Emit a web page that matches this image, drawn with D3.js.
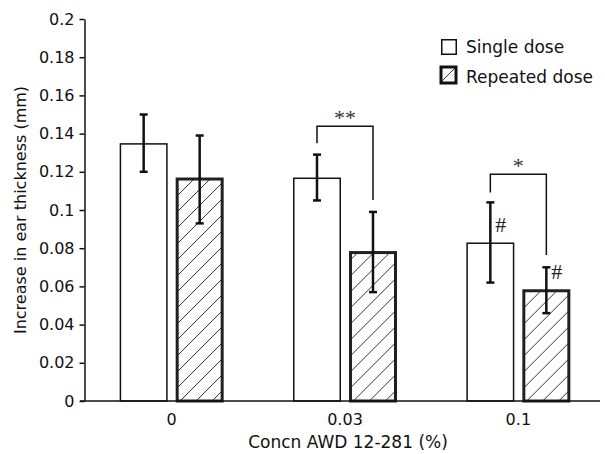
<!DOCTYPE html>
<html><head><meta charset="utf-8">
<script src="https://cdn.jsdelivr.net/npm/d3@7"></script>
<style>body{margin:0;background:#fff}svg{display:block}</style>
</head><body>
<svg id="c" width="605" height="454"></svg>
<script>
// ---- data ----
const categories = ["0", "0.03", "0.1"];
const seriesNames = ["Single dose", "Repeated dose"];
const singleMean = [0.135, 0.117, 0.083];
const singleErrLo = [0.120, 0.105, 0.062];
const singleErrHi = [0.150, 0.129, 0.104];
const repeatedMean = [0.117, 0.0785, 0.0585];
const repeatedErrLo = [0.093, 0.057, 0.046];
const repeatedErrHi = [0.139, 0.099, 0.070];
const yTicks = [0, 0.02, 0.04, 0.06, 0.08, 0.1, 0.12, 0.14, 0.16, 0.18, 0.2];
const yTickLabels = ["0", "0.02", "0.04", "0.06", "0.08", "0.1", "0.12", "0.14", "0.16", "0.18", "0.2"];
// significance brackets: category, bracket top value, left/right leg end values, label
const bracketCats = ["0.03", "0.1"];
const bracketTop = [0.1438, 0.1187];
const bracketLegL = [0.1349, 0.1091];
const bracketLegR = [0.1052, 0.0764];
const bracketLabels = ["**", "*"];
// '#' markers: category, series index
const hashCats = ["0.1", "0.1"];
const hashSeries = [0, 1];

const svg = d3.select("#c");
const font = "'DejaVu Sans', sans-serif";

const y = d3.scaleLinear().domain([0, 0.2]).range([401, 19]);
const x0 = d3.scaleBand().domain(categories).range([85, 605]).paddingInner(0).paddingOuter(0);
const step = x0.bandwidth();
const x1 = d3.scaleBand().domain([0, 1]).range([step / 2 - 52, step / 2 + 52]).paddingInner(0.143).paddingOuter(0);
const bw = x1.bandwidth();

// hatch pattern
const defs = svg.append("defs");
const pat = defs.append("pattern").attr("id", "hatch").attr("patternUnits", "userSpaceOnUse")
  .attr("width", 16).attr("height", 16);
pat.append("path").attr("d", "M-4,4 L4,-4 M0,16 L16,0 M12,20 L20,12")
  .attr("stroke", "#333").attr("stroke-width", 1).attr("fill", "none");

// rows
const rows = categories.map((c, i) => ({
  cat: c,
  vals: [
    { s: 0, mean: singleMean[i], lo: singleErrLo[i], hi: singleErrHi[i] },
    { s: 1, mean: repeatedMean[i], lo: repeatedErrLo[i], hi: repeatedErrHi[i] }
  ]
}));

const g = svg.append("g").selectAll("g").data(rows).join("g")
  .attr("transform", d => `translate(${x0(d.cat)},0)`);

g.selectAll("rect").data(d => d.vals).join("rect")
  .attr("x", d => x1(d.s) + (d.s === 1 ? 1.5 : 0.75))
  .attr("y", d => y(d.mean) + (d.s === 1 ? 1.5 : 0.75))
  .attr("width", d => bw - (d.s === 1 ? 3 : 1.5))
  .attr("height", d => y(0) - y(d.mean) - (d.s === 1 ? 1.5 : 0.75))
  .attr("fill", d => d.s === 1 ? "url(#hatch)" : "#fff")
  .attr("stroke", d => d.s === 1 ? "#231f20" : "#111")
  .attr("stroke-width", d => d.s === 1 ? 3 : 1.5);

// error bars
const eb = g.selectAll("g.eb").data(d => d.vals).join("g").attr("class", "eb")
  .attr("transform", d => `translate(${x1(d.s) + bw / 2},0)`);
eb.append("line").attr("y1", d => y(d.lo)).attr("y2", d => y(d.hi))
  .attr("stroke", "#111").attr("stroke-width", 2.5);
eb.append("line").attr("x1", -4).attr("x2", 4).attr("y1", d => y(d.lo)).attr("y2", d => y(d.lo))
  .attr("stroke", "#111").attr("stroke-width", 2.5);
eb.append("line").attr("x1", -4).attr("x2", 4).attr("y1", d => y(d.hi)).attr("y2", d => y(d.hi))
  .attr("stroke", "#111").attr("stroke-width", 2.5);

// brackets
bracketCats.forEach((c, i) => {
  const xl = x0(c) + x1(0) + bw / 2;
  const xr = x0(c) + x1(1) + bw / 2;
  svg.append("path")
    .attr("d", `M${xl},${y(bracketLegL[i])}V${y(bracketTop[i])}H${xr}V${y(bracketLegR[i])}`)
    .attr("fill", "none").attr("stroke", "#111").attr("stroke-width", 1.5);
  svg.append("text").attr("x", (xl + xr) / 2).attr("y", y(bracketTop[i]) - 1)
    .attr("text-anchor", "middle").attr("font-family", "'Liberation Serif', serif")
    .attr("font-size", 22).attr("fill", "#333").text(bracketLabels[i]);
});

// hash markers
hashCats.forEach((c, i) => {
  const s = hashSeries[i];
  const m = s === 0 ? singleMean[categories.indexOf(c)] : repeatedMean[categories.indexOf(c)];
  svg.append("text").attr("x", x0(c) + x1(s) + bw / 2 + 5).attr("y", y(m) - 10)
    .attr("font-family", "'Liberation Serif', serif").attr("font-size", 22)
    .attr("fill", "#222").text("#");
});

// y axis
const yAxis = svg.append("g").attr("transform", "translate(84.5,0)")
  .call(d3.axisLeft(y).tickValues(yTicks).tickFormat((d, i) => yTickLabels[i]).tickSize(5).tickPadding(5).tickSizeOuter(0));
yAxis.select(".domain").attr("stroke", "#111").attr("stroke-width", 1.5);
yAxis.selectAll(".tick line").attr("stroke", "#111").attr("stroke-width", 1.5);
yAxis.selectAll(".tick text").attr("font-family", font).attr("font-size", 16).attr("fill", "#111");

// x axis
const xAxis = svg.append("g").attr("transform", `translate(0,${y(0)})`)
  .call(d3.axisBottom(x0).tickSize(0).tickSizeOuter(0).tickPadding(0));
xAxis.select(".domain").attr("d", "M80,0H600").attr("stroke", "#111").attr("stroke-width", 1.5);
xAxis.selectAll(".tick text").attr("font-family", font).attr("font-size", 16).attr("fill", "#111")
  .attr("dy", null).attr("y", 24);

// axis titles
svg.append("text").attr("transform", `translate(26,${(y(0) + y(0.2)) / 2}) rotate(-90)`)
  .attr("text-anchor", "middle").attr("font-family", font).attr("font-size", 16).attr("fill", "#111")
  .text("Increase in ear thickness (mm)");
svg.append("text").attr("x", 348).attr("y", 448).attr("text-anchor", "middle")
  .attr("font-family", font).attr("font-size", 17).attr("fill", "#111")
  .text("Concn AWD 12-281 (%)");

// legend
const lg = svg.append("g").attr("transform", "translate(441,39)");
const li = lg.selectAll("g").data(seriesNames).join("g").attr("transform", (d, i) => `translate(0,${i * 27})`);
li.append("rect")
  .attr("x", (d, i) => i === 1 ? 0 : 0.75).attr("y", (d, i) => i === 1 ? 1 : 0.75)
  .attr("width", (d, i) => i === 1 ? 15 : 14.5).attr("height", (d, i) => i === 1 ? 16 : 14.5)
  .attr("fill", (d, i) => i === 1 ? "url(#hatch)" : "#fff")
  .attr("stroke", "#111").attr("stroke-width", (d, i) => i === 1 ? 3 : 1.5);
li.append("text").attr("x", 25).attr("y", (d, i) => i === 1 ? 17.3 : 14.3)
  .attr("font-family", font).attr("font-size", 17).attr("fill", "#111").text(d => d);
</script>
</body></html>
